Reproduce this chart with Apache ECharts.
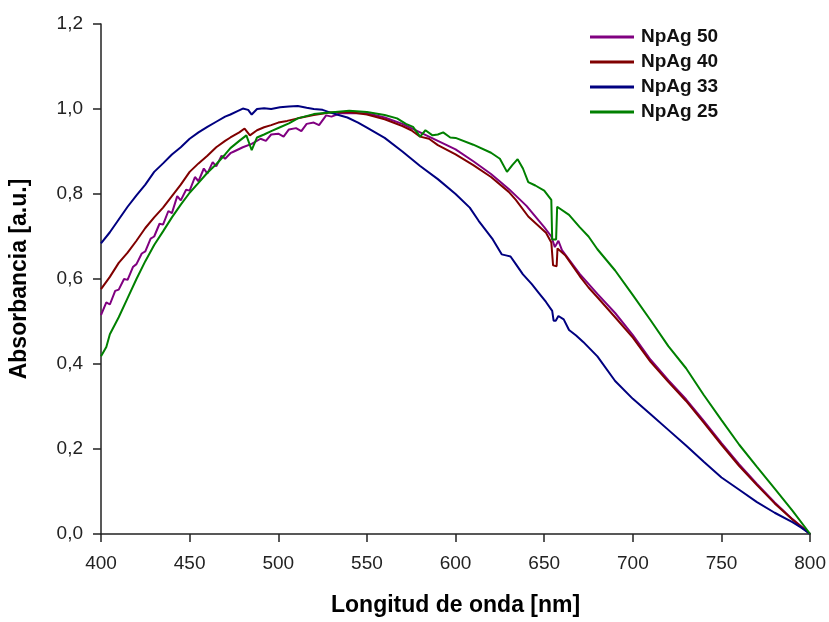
<!DOCTYPE html>
<html>
<head>
<meta charset="utf-8">
<script src="https://cdn.jsdelivr.net/npm/echarts@6/dist/echarts.min.js"></script>
<style>html,body{margin:0;padding:0;background:#fff}#c{width:829px;height:622px}</style>
</head>
<body>
<div id="c"></div>
<script>
const seriesNames = ['NpAg 50', 'NpAg 40', 'NpAg 33', 'NpAg 25'];
const seriesColors = ['#800080', '#800000', '#000080', '#008000'];
const xTickLabels = ['400','450','500','550','600','650','700','750','800'];
const yTickLabels = ['0,0','0,2','0,4','0,6','0,8','1,0','1,2'];

const wl50 = [400,403,405,408,410,413,415,418,420,423,425,428,430,433,435,438,440,443,445,448,450,453,455,458,460,463,465,468,470,473,475,480,485,490,493,496,500,503,506,510,513,516,520,523,527,530,535,540,550,560,570,580,590,600,610,620,630,640,650,654,656,658,660,670,680,690,700,710,720,730,740,750,760,770,780,790,800];
const abs50 = [0.515,0.545,0.54,0.572,0.575,0.6,0.598,0.628,0.635,0.66,0.665,0.695,0.7,0.73,0.728,0.76,0.755,0.795,0.785,0.81,0.808,0.84,0.83,0.86,0.848,0.875,0.865,0.89,0.883,0.896,0.9,0.91,0.918,0.93,0.925,0.94,0.942,0.935,0.952,0.955,0.948,0.965,0.968,0.962,0.985,0.982,0.99,0.99,0.99,0.98,0.965,0.945,0.925,0.905,0.877,0.847,0.812,0.772,0.722,0.7,0.675,0.69,0.668,0.612,0.565,0.52,0.468,0.41,0.362,0.317,0.266,0.214,0.164,0.118,0.074,0.035,0.0];

const wl40 = [400,405,410,415,420,425,430,435,440,445,450,455,460,465,470,473,478,481,484,488,492,496,500,505,511,520,529,540,550,560,570,575,580,585,590,600,610,620,630,634,641,651,654,655,657,657.5,658.5,662,670,675,680,690,700,710,720,730,740,750,760,770,780,790,800];
const abs40 = [0.576,0.605,0.638,0.662,0.69,0.72,0.745,0.768,0.795,0.822,0.852,0.872,0.89,0.91,0.925,0.933,0.945,0.954,0.938,0.95,0.957,0.962,0.968,0.972,0.978,0.986,0.992,0.993,0.987,0.976,0.96,0.95,0.935,0.93,0.915,0.893,0.868,0.84,0.805,0.786,0.747,0.709,0.686,0.632,0.63,0.672,0.67,0.655,0.607,0.58,0.557,0.51,0.462,0.405,0.358,0.313,0.262,0.21,0.16,0.115,0.072,0.034,0.0];

const wl33 = [400,405,410,415,420,425,430,435,440,445,450,455,460,465,470,473,477,480,483,485,488,492,496,501,506,511,516,520,525,529,534,539,545,550,560,570,580,590,600,608,613,621,626,629,631,634,638,643,647,651,654.5,655.3,656.5,658,661,664,668,672,680,690,700,710,720,730,740,750,760,770,780,790,795,800];
const abs33 = [0.684,0.71,0.74,0.77,0.797,0.822,0.852,0.872,0.893,0.91,0.93,0.945,0.958,0.97,0.982,0.987,0.995,1.001,0.998,0.987,1.0,1.002,1.0,1.004,1.006,1.007,1.003,1.0,0.998,0.992,0.986,0.98,0.968,0.956,0.932,0.9,0.866,0.835,0.8,0.768,0.737,0.693,0.658,0.655,0.653,0.635,0.611,0.588,0.567,0.546,0.525,0.502,0.502,0.513,0.505,0.48,0.467,0.452,0.418,0.36,0.318,0.282,0.245,0.208,0.17,0.133,0.104,0.075,0.05,0.028,0.015,0.0];

const wl25 = [400,403,405,410,415,420,425,430,435,440,445,450,455,460,465,470,473,478,482,485,488,492,496,501,506,511,520,529,540,550,560,567,572,576,580,583,587,590,593,597,600,610,620,625,629,632,635,638,641,645,650,654,654.5,656.7,657.3,664,670,675,680,690,700,710,720,730,740,750,760,770,780,790,800];
const abs25 = [0.418,0.44,0.47,0.51,0.555,0.6,0.642,0.68,0.712,0.745,0.775,0.803,0.826,0.85,0.87,0.893,0.908,0.925,0.938,0.903,0.933,0.94,0.948,0.957,0.966,0.978,0.988,0.992,0.996,0.993,0.986,0.978,0.965,0.958,0.935,0.95,0.938,0.94,0.945,0.933,0.932,0.916,0.897,0.883,0.852,0.868,0.882,0.86,0.828,0.82,0.808,0.786,0.693,0.693,0.77,0.751,0.722,0.7,0.67,0.62,0.562,0.503,0.442,0.39,0.327,0.268,0.21,0.158,0.107,0.055,0.0];

const xs = [wl50, wl40, wl33, wl25];
const ys = [abs50, abs40, abs33, abs25];

const chart = echarts.init(document.getElementById('c'), null, {renderer: 'canvas'});
const font = 'Arial, "Liberation Sans", sans-serif';
chart.setOption({
  animation: false,
  backgroundColor: '#ffffff',
  grid: {left: 100, right: 17, top: 24, bottom: 85, containLabel: false},
  legend: {
    orient: 'vertical', left: 585, top: 22,
    icon: 'rect', itemWidth: 44, itemHeight: 3, itemGap: 5,
    textStyle: {fontFamily: font, fontWeight: 'bold', fontSize: 19, color: '#111', lineHeight: 20, padding: [0, 0, 0, 2]},
    data: seriesNames
  },
  xAxis: {
    type: 'value', min: 400, max: 800, interval: 50,
    name: 'Longitud de onda [nm]', nameLocation: 'middle', nameGap: 60,
    nameTextStyle: {fontFamily: font, fontWeight: 'bold', fontSize: 23, color: '#000'},
    axisLine: {show: true, lineStyle: {color: '#222', width: 1.5}},
    axisTick: {show: true, inside: false, length: 8, lineStyle: {color: '#222', width: 1.5}},
    axisLabel: {margin: 20, fontFamily: font, fontSize: 19, color: '#222',
      formatter: v => xTickLabels[Math.round((v - 400) / 50)]},
    splitLine: {show: false}
  },
  yAxis: {
    type: 'value', min: 0, max: 1.2, interval: 0.2,
    name: 'Absorbancia [a.u.]', nameLocation: 'middle', nameGap: 70, nameRotate: 90,
    nameTextStyle: {fontFamily: font, fontWeight: 'bold', fontSize: 23, color: '#000'},
    axisLine: {show: true, lineStyle: {color: '#222', width: 1.5}},
    axisTick: {show: true, inside: false, length: 8, lineStyle: {color: '#222', width: 1.5}},
    axisLabel: {margin: 18, fontFamily: font, fontSize: 19, color: '#222',
      formatter: v => yTickLabels[Math.round(v / 0.2)]},
    splitLine: {show: false}
  },
  series: seriesNames.map((n, i) => ({
    name: n, type: 'line', symbol: 'none', showSymbol: false,
    data: xs[i].map((x, j) => [x, ys[i][j]]),
    lineStyle: {color: seriesColors[i], width: 2},
    itemStyle: {color: seriesColors[i]},
    z: 2 + i
  }))
});
</script>
</body>
</html>
